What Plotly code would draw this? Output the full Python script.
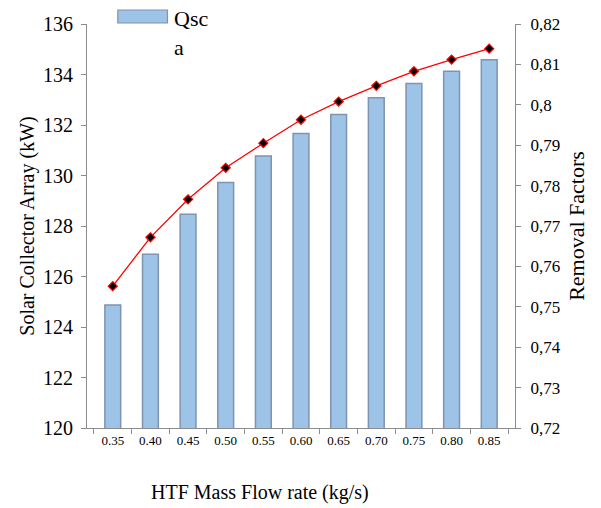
import plotly.graph_objects as go

flow_rates = ["0.35", "0.40", "0.45", "0.50", "0.55", "0.60", "0.65", "0.70", "0.75", "0.80", "0.85"]
qsca_kw = [124.87, 126.88, 128.47, 129.72, 130.77, 131.66, 132.42, 133.08, 133.64, 134.13, 134.58]
removal_factor = [0.7551, 0.7672, 0.7766, 0.7844, 0.7905, 0.7963, 0.8008, 0.8047, 0.8083, 0.8112, 0.8139]

left_ticks = [120, 122, 124, 126, 128, 130, 132, 134, 136]
right_ticks = [0.72, 0.73, 0.74, 0.75, 0.76, 0.77, 0.78, 0.79, 0.80, 0.81, 0.82]
right_labels = ["0,72", "0,73", "0,74", "0,75", "0,76", "0,77", "0,78", "0,79", "0,8", "0,81", "0,82"]

FONT = "Times New Roman, Tinos, DejaVu Serif"
AX = "#8c8c8c"

fig = go.Figure()
fig.add_trace(go.Bar(
    x=flow_rates, y=qsca_kw, name="Qsca", width=0.42,
    marker=dict(color="#9dc3e6", line=dict(color="#7f93b2", width=1.5)),
    showlegend=False,
))
fig.add_trace(go.Scatter(
    x=flow_rates, y=removal_factor, yaxis="y2", mode="lines+markers",
    line=dict(color="#ff0000", width=1.3),
    marker=dict(symbol="diamond", size=7, color="#000000", line=dict(color="#ff0000", width=1.2)),
    showlegend=False,
))

fig.update_layout(
    width=601, height=508,
    margin=dict(l=87, r=86, t=24, b=80),
    paper_bgcolor="white", plot_bgcolor="white",
    font=dict(family=FONT, color="#000000"),
    xaxis=dict(
        type="category", showline=True, linecolor=AX, linewidth=1, tickangle=0,
        ticks="outside", tickson="boundaries", ticklen=5, tickcolor=AX,
        tickfont=dict(size=13, family=FONT), showgrid=False, zeroline=False,
    ),
    yaxis=dict(
        range=[120, 136], tickvals=left_ticks, showline=True, linecolor=AX, linewidth=1,
        ticks="outside", ticklen=5, tickcolor=AX, tickfont=dict(size=20, family=FONT),
        ticklabelstandoff=4,
        showgrid=False, zeroline=False,
        title=dict(text="Solar Collector Array (kW)", font=dict(size=20, family=FONT), standoff=3),
    ),
    yaxis2=dict(
        range=[0.72, 0.82], tickvals=right_ticks, ticktext=right_labels, overlaying="y", side="right",
        showline=True, linecolor=AX, linewidth=1, ticks="outside", ticklen=5, tickcolor=AX,
        tickfont=dict(size=17, family=FONT), ticklabelstandoff=6, showgrid=False, zeroline=False,
        title=dict(text="Removal Factors", font=dict(size=22, family=FONT), standoff=8),
    ),
)

# legend drawn manually (wide swatch, wrapped label as in the reference)
fig.add_shape(type="rect", xref="paper", yref="paper",
              x0=0.072, x1=0.188, y0=1 + (24 - 23) / 404, y1=1 + (24 - 10) / 404,
              fillcolor="#9dc3e6", line=dict(color="#7f93b2", width=1.2))
fig.add_annotation(xref="paper", yref="paper", x=0.198, y=1.05, xanchor="left", yanchor="top",
                   text="Qsc<br>a", showarrow=False, align="left",
                   font=dict(size=22, family=FONT))
fig.add_annotation(xref="paper", yref="paper", x=0.405, y=-0.192, xanchor="center", yanchor="bottom",
                   text="HTF Mass Flow rate (kg/s)", showarrow=False,
                   font=dict(size=20, family=FONT))

fig.write_html("out.html")
